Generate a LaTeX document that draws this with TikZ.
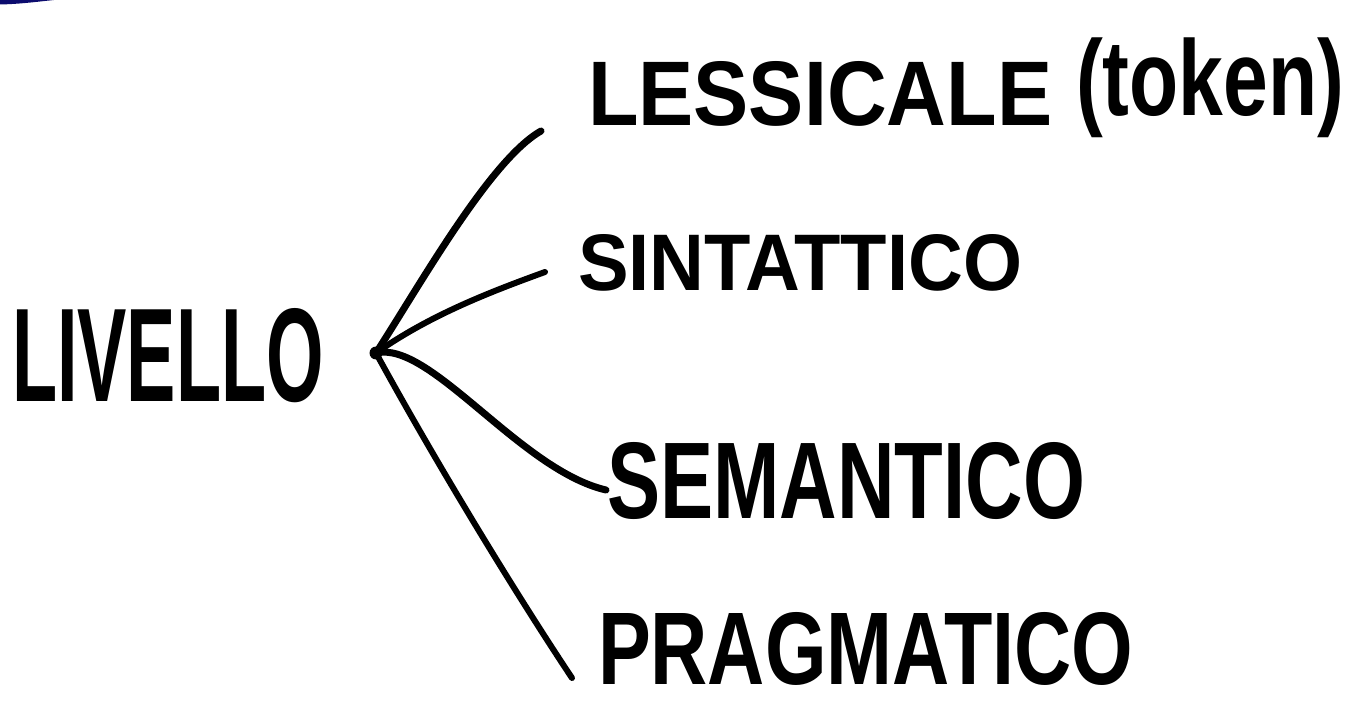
\documentclass[tikz,border=0pt]{standalone}
\usepackage{fontspec}
\usepackage{graphicx}
\setmainfont{Liberation Sans}
\definecolor{navyink}{RGB}{12,12,110}
\tikzset{
  ink/.style={line width=7pt, line cap=round, black},
  thinink/.style={line width=6pt, line cap=round, black},
  word/.style={anchor=south west, inner sep=0pt, outer sep=0pt, font=\bfseries},
}
\begin{document}
\begin{tikzpicture}[x=1pt,y=-1pt]
\useasboundingbox (0,0) rectangle (1368,708);
\fill[white] (0,0) rectangle (1368,708);
% blue mark at the top-left edge
\fill[navyink] (0,0) -- (54,0) .. controls (35,2) and (20,4) .. (0,4.5) -- cycle;
% words
\node[word] (livello) at (12,403) {\resizebox{312pt}{93pt}{LIVELLO}};
\node[word] (lessicale) at (588,126) {\resizebox{464pt}{64pt}{LESSICALE}};
\node[word] (token) at (1076,138) {\resizebox*{268pt}{100pt}{(token)}};
\node[word] (sintattico) at (578,291) {\resizebox{444pt}{56pt}{SINTATTICO}};
\node[word] (semantico) at (607,520) {\resizebox{478pt}{76pt}{SEMANTICO}};
\node[word] (pragmatico) at (598,686) {\resizebox{535pt}{72pt}{PRAGMATICO}};
% hub
\node[circle, fill=black, inner sep=0pt, minimum size=13pt] (hub) at (376,353) {};
\coordinate (e1) at (541,131);
\coordinate (e2) at (545,272);
\coordinate (e3) at (606,490);
\coordinate (e4) at (572,678);
\draw[ink] (hub.center) .. controls (420,285) and (490,160) .. (e1);
\draw[thinink] (hub.center) .. controls (430,315) and (490,292) .. (e2);
\draw[ink] (hub.center) .. controls (430,340) and (520,470) .. (e3);
\draw[thinink] (hub.center) .. controls (440,470) and (520,600) .. (e4);
\end{tikzpicture}
\end{document}
